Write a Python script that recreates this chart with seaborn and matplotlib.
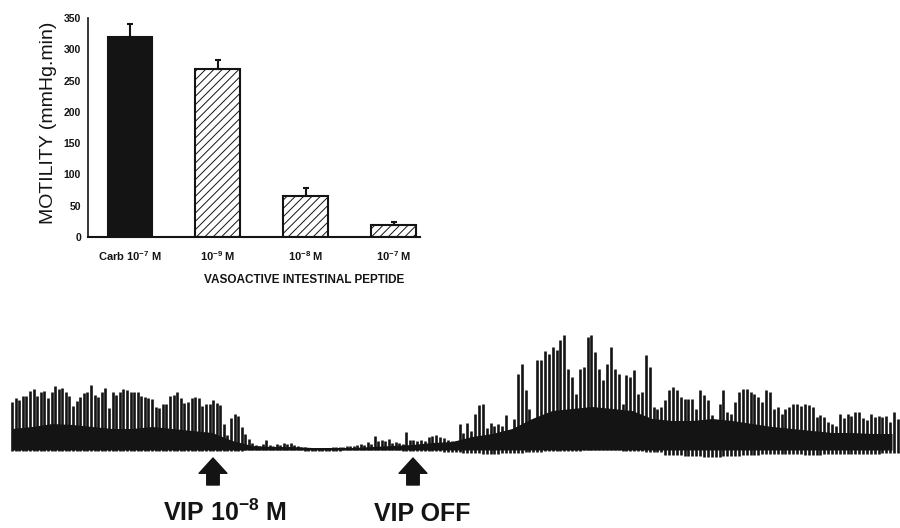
import numpy as np
import matplotlib
matplotlib.use('Agg')
import matplotlib.pyplot as plt
import seaborn as sns

# ── Inset bar chart data ──────────────────────────────────────────────────────
conditions   = ['Carb 10$^{-7}$ M', '10$^{-9}$ M', '10$^{-8}$ M', '10$^{-7}$ M']
motility     = [319, 268, 66, 19]
motility_err = [22, 15, 12, 5]
bar_colors   = ['#141414', 'white', 'white', 'white']
hatched      = [False, True, True, True]

# ── Motility trace: spike peaks above baseline (arbitrary units) ──────────────
pre_vip_peaks = [47, 51, 49, 53, 53, 58, 60, 53, 57, 58, 51, 57, 63, 60, 61, 57,
                 53, 43, 48, 52, 56, 57, 64, 54, 52, 57, 61, 41, 57, 54, 57, 60,
                 59, 57, 57, 57,
                 53, 52, 51, 50, 42, 41, 45, 45, 53, 54, 57, 51, 46, 47, 51, 52,
                 51, 43, 45, 45, 49, 46, 44, 25, 14, 31, 35, 33, 22, 15, 10]
vip_peaks = [6, 4, 3, 5, 9, 4, 3, 5, 4, 6, 5, 6, 4, 3, 2, 2, 1, 1, 1, 1, 1, 1, 1,
             2, 2, 2, 2, 3, 3, 3, 4, 5, 4, 7, 5, 13, 8, 9, 8, 10, 6, 7, 6, 5, 17, 9]
washout_peaks = [9, 8, 9, 8, 12, 13, 14, 12, 11, 9, 8, 8, 25, 16, 26, 18, 35, 44,
                 45, 21, 26, 23, 25, 23, 34, 17, 30, 75, 85, 59, 40, 25, 89, 89,
                 98, 95, 102, 99,
                 109, 114, 80, 72, 55, 80, 82, 112, 114, 97, 80, 69, 85, 102, 80,
                 75, 45, 74, 72, 79, 55, 57, 94, 82, 42, 40, 42, 49, 59, 62,
                 59, 52, 50, 50, 50, 40, 59, 54, 49, 34, 22, 45, 59, 37, 35, 47,
                 57, 60, 60, 57, 55, 52, 47, 59, 57, 40, 42, 35, 40,
                 42, 45, 45, 43, 45, 44, 42, 32, 34, 32, 27, 25, 23, 35, 31, 35,
                 33, 37, 37, 31, 29, 35, 32, 33, 32, 33, 27, 37, 30]
segment_min = [(0.0, 23.7), (24.0, 39.8), (40.1, 88.6)]

# tonic activity envelope, sampled every 2 min
band_min = list(range(0, 89, 2))
band_top = [20, 22, 25, 24, 22, 20, 20, 22, 20, 18, 16, 8, 3,
            2, 2, 1, 1, 1, 2, 3,
            4, 6, 7, 12, 15, 20, 30, 38, 40, 42, 40, 38, 30, 28, 28, 30, 28,
            25, 22, 20, 18, 16, 16, 15, 15]
band_bottom = [-2, -2, -2, -2, -2, -2, -2, -2, -2, -2, -2, -2, -1,
               -1, -1, -2, -2, -1, -1, -1,
               -2, -2, -3, -4, -5, -4, -3, -2, -2, -1, -1, -2, -3, -6, -7, -8,
               -7, -6, -5, -5, -6, -5, -5, -5, -4]

vip_on_min  = 20.1
vip_off_min = 40.1

INK = '#141414'

sns.set_style('white')
plt.rcParams['font.family'] = ['Liberation Sans', 'DejaVu Sans']
plt.rcParams['mathtext.fontset'] = 'custom'
plt.rcParams['mathtext.rm'] = 'Liberation Sans:bold'
plt.rcParams['mathtext.it'] = 'Liberation Sans:bold'
plt.rcParams['mathtext.bf'] = 'Liberation Sans:bold'
plt.rcParams['hatch.linewidth'] = 0.7

fig = plt.figure(figsize=(9, 5.28), dpi=100)
fig.patch.set_facecolor('white')

# ── Inset: motility bar chart ─────────────────────────────────────────────────
ax1 = fig.add_axes([88 / 900, 1 - 237 / 528, 332 / 900, 219 / 528])
sns.barplot(x=conditions, y=motility, hue=conditions,
            palette=dict(zip(conditions, bar_colors)), legend=False,
            width=0.51, saturation=1, edgecolor=INK, linewidth=1.5,
            errorbar=None, ax=ax1)
for patch, h in zip(ax1.patches, hatched):
    if h:
        patch.set_hatch('////')
centers = [p.get_x() + p.get_width() / 2 for p in ax1.patches]
ax1.errorbar(centers, motility, yerr=[np.zeros(len(motility)), motility_err],
             fmt='none', ecolor=INK, elinewidth=1.5, capsize=2.5, capthick=1.5)
ax1.set_xlim(-0.477, 3.30)
ax1.set_ylim(0, 350)
ax1.set_yticks(range(0, 351, 50))
sns.despine(ax=ax1)
ax1.spines['left'].set_linewidth(1.2)
ax1.spines['bottom'].set_linewidth(1.5)
ax1.spines[['left', 'bottom']].set_color(INK)
ax1.tick_params(axis='y', direction='out', length=3, width=1, pad=2,
                labelsize=7.5, colors=INK)
ax1.tick_params(axis='x', length=0, pad=9, labelsize=8, colors=INK)
for lbl in ax1.get_yticklabels() + ax1.get_xticklabels():
    lbl.set_fontweight('bold')
ax1.set_xlabel('')
ax1.set_ylabel('MOTILITY (mmHg.min)', fontsize=14, color=INK)
ax1.yaxis.set_label_coords(-0.093, 0.52)
fig.text(304 / 900, 1 - 280 / 528, 'VASOACTIVE INTESTINAL PEPTIDE',
         ha='center', va='center', fontsize=8.5, fontweight='bold', color=INK)

# ── Motility trace ────────────────────────────────────────────────────────────
ax2 = fig.add_axes([0, 0, 1, 208 / 528])
ax2.set_xlim(-1.2, 88.8)
ax2.set_ylim(-79.5, 128.5)
ax2.axis('off')
ax2.fill_between(band_min, -1.5, band_top, color=INK, lw=0)
for (t0, t1), peaks in zip(segment_min, [pre_vip_peaks, vip_peaks, washout_peaks]):
    t = np.linspace(t0, t1, len(peaks))
    lows = np.array(band_bottom)[np.rint(t / 2).astype(int)]
    ax2.vlines(t, lows, peaks, color=INK, lw=1.9)

for t_evt in (vip_on_min, vip_off_min):
    ax2.annotate('', xy=(t_evt, -9.5), xytext=(t_evt, -36.5),
                 arrowprops=dict(arrowstyle='simple,head_length=0.55,head_width=1.0,tail_width=0.45',
                                 mutation_scale=20, color=INK, shrinkA=0, shrinkB=0))
ax2.text(vip_on_min + 1.2, -72.5, 'VIP 10$^{-8}$ M', ha='center', va='baseline',
         fontsize=18, fontweight='bold', color=INK)
ax2.text(vip_off_min + 0.9, -72.5, 'VIP OFF', ha='center', va='baseline',
         fontsize=18, fontweight='bold', color=INK)

plt.savefig('out.png', dpi=100, facecolor=fig.get_facecolor())
